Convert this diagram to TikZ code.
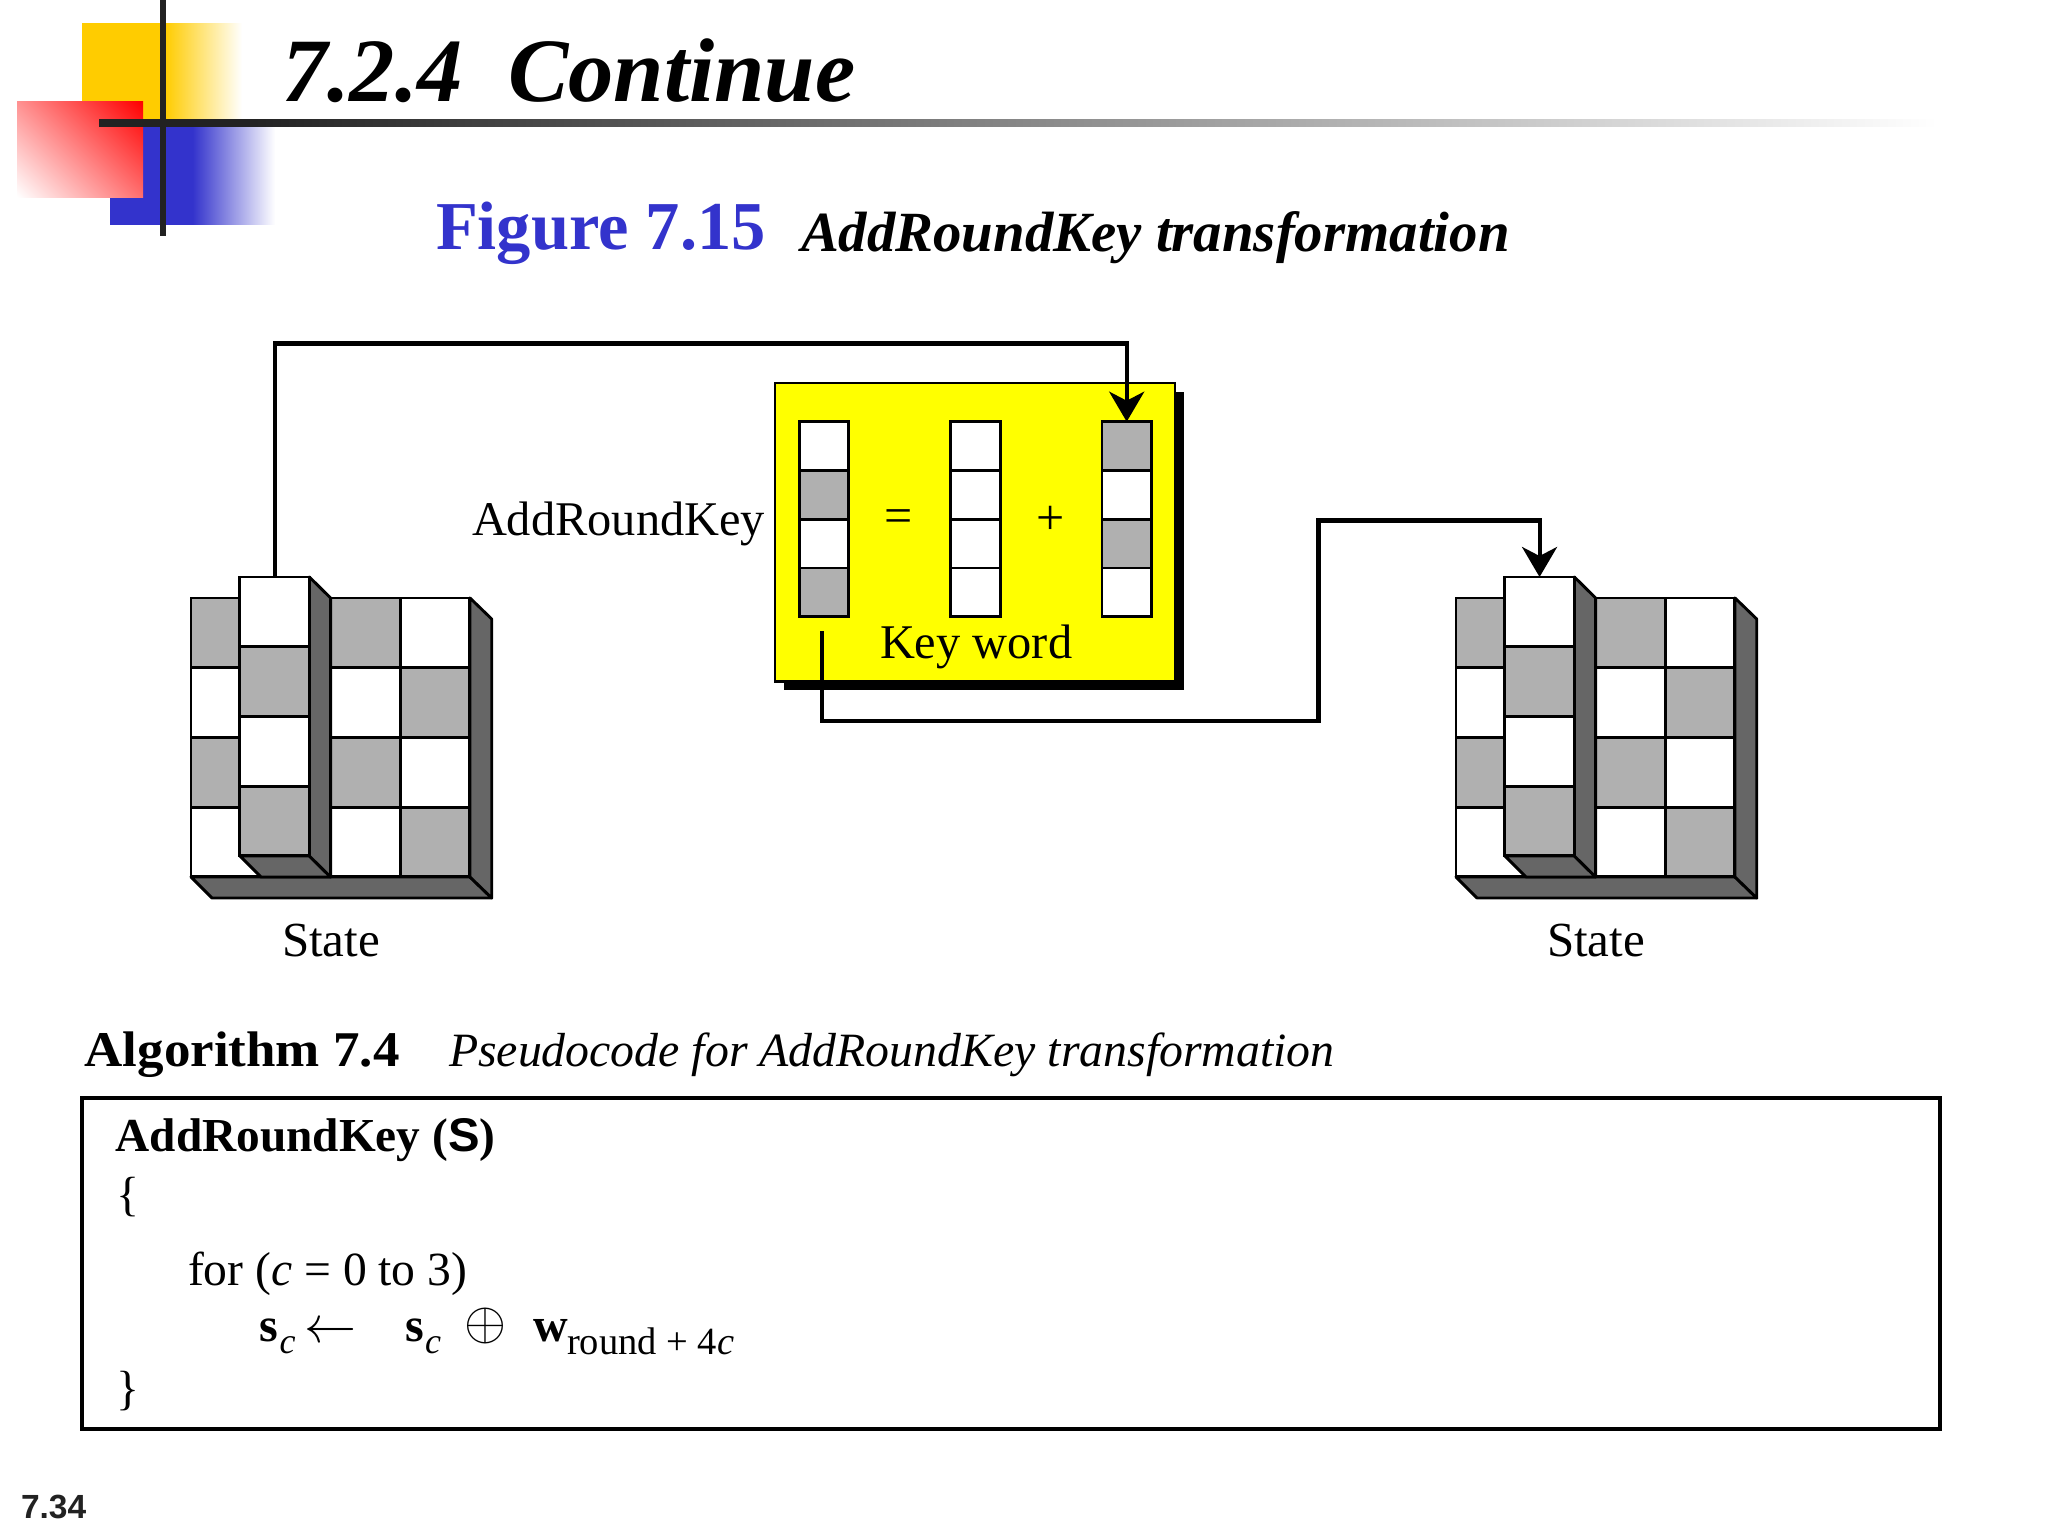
\documentclass[tikz,border=0pt]{standalone}
\usepackage{fontspec}
\setmainfont{Liberation Serif}
\newfontfamily\hsans{Liberation Sans}
\usetikzlibrary{arrows.meta}
\definecolor{cgray}{RGB}{176,176,176}
\definecolor{cdark}{RGB}{102,102,102}
\definecolor{cbar}{RGB}{34,34,34}
\definecolor{cblue}{RGB}{51,51,204}
\definecolor{cyel}{RGB}{255,204,0}
\definecolor{credm}{RGB}{255,128,128}
\definecolor{credd}{RGB}{255,0,0}
\definecolor{cpanel}{RGB}{255,255,0}
\pgfdeclarehorizontalshading{yelfade}{100bp}{color(0bp)=(cyel); color(51bp)=(cyel); color(75bp)=(white); color(100bp)=(white)}
\pgfdeclarehorizontalshading{blufade}{100bp}{color(0bp)=(cblue); color(50bp)=(cblue); color(75bp)=(white); color(100bp)=(white)}
\pgfdeclarehorizontalshading{barfade}{100bp}{color(0bp)=(cbar); color(29bp)=(cbar); color(75bp)=(white); color(100bp)=(white)}
\pgfdeclareverticalshading{redfade}{100bp}{color(0bp)=(white); color(14.6bp)=(white); color(50bp)=(credm); color(85.4bp)=(credd); color(100bp)=(credd)}
\newcommand{\fsz}[1]{\fontsize{#1}{#1}\selectfont}
\tikzset{
  txt/.style={inner sep=0pt,outer sep=0pt,anchor=base west},
  cellbase/.style={draw=black,line width=2.9pt,inner sep=0pt,outer sep=0pt,anchor=north west,minimum width=69.7pt,minimum height=69.7pt},
  cellw/.style={cellbase,fill=white},
  cellg/.style={cellbase,fill=cgray},
  keybase/.style={draw=black,line width=2.8pt,inner sep=0pt,outer sep=0pt,anchor=north west,minimum width=49.4pt,minimum height=48.7pt},
  keyw/.style={keybase,fill=white},
  keyg/.style={keybase,fill=cgray},
  face/.style={draw=black,line width=2.9pt,fill=cdark,line join=round},
  conn/.style={draw=black,line width=4.1pt,line join=miter},
  arrowed/.style={conn,-{Stealth[length=30pt,width=35pt,inset=9pt]}},
}
\newcommand{\statecube}[2]{%
  \begin{scope}[xshift=#2pt]
    \draw[face] (191,877) -- (212,898) -- (491.7,898) -- (470,877) -- cycle;
    \draw[face] (470,598) -- (491.7,619) -- (491.7,898) -- (470,877) -- cycle;
    \foreach \j/\a/\b/\c in {0/cellg/cellg/cellw,1/cellw/cellw/cellg,2/cellg/cellg/cellw,3/cellw/cellw/cellg}{
      \node[\a] (#1a\j) at (191,{598+\j*69.7}) {};
      \node[cellw] (#1h\j) at (260.7,{598+\j*69.7}) {};
      \node[\b] (#1b\j) at (330.4,{598+\j*69.7}) {};
      \node[\c] (#1c\j) at (400.1,{598+\j*69.7}) {};
    }
    \draw[face] (240,856) -- (261,877) -- (330.6,877) -- (309.4,856) -- cycle;
    \draw[face] (309.4,577) -- (330.6,598) -- (330.6,877) -- (309.4,856) -- cycle;
    \foreach \j/\a in {0/cellw,1/cellg,2/cellw,3/cellg}{
      \node[\a] (#1p\j) at (239.7,{577+\j*69.7}) {};
    }
    \node[txt] (#1lab) at (282,956) {\fsz{49}State};
  \end{scope}}
\begin{document}
\begin{tikzpicture}[x=1pt,y=-1pt]
\useasboundingbox (0,0) rectangle (2048,1536);
\fill[white] (0,0) rectangle (2048,1536);
% corner decoration
\shade[shading=yelfade] (82,24) rectangle (242,120);
\shade[shading=blufade] (110,120) rectangle (275,224.5);
\shade[shading=redfade,shading angle=-45] (17,102) rectangle (143,197);
\fill[cbar] (159.6,0) rectangle (166,235.6);
\shade[shading=barfade] (99,119.3) rectangle (1937,126.8);
% headings
\node[txt] (title) at (282,102) {\fsz{90.5}\bfseries\itshape 7.2.4\hspace{.5em}Continue};
\node[txt,text=cblue] (figno) at (436,249) {\fsz{68.5}\bfseries Figure 7.15};
\node[txt] (figcap) at (801,251) {\fsz{56.8}\bfseries\itshape AddRoundKey transformation};
% key panel
\fill[black] (784,392) rectangle (1184,690);
\node[draw=black,line width=2.9pt,fill=cpanel,inner sep=0pt,outer sep=0pt,anchor=north west,minimum width=400pt,minimum height=298.7pt] (panel) at (775,383) {};
\foreach \j/\a/\b in {0/keyw/keyg,1/keyg/keyw,2/keyw/keyg,3/keyg/keyw}{
  \node[\a] (ka\j) at (799.3,{421.7+\j*48.75}) {};
  \node[keyw] (kb\j) at (950.7,{421.7+\j*48.75}) {};
  \node[\b] (kc\j) at (1102,{421.7+\j*48.75}) {};
}
\node[txt] (arklab) at (472,535) {\fsz{48.4}AddRoundKey};
\node[inner sep=0pt] (eq) at (899,521.5) {\fsz{50}=};
\node[inner sep=0pt] (plus) at (1050.5,520.5) {\fsz{50}+};
\node[txt] (kw) at (880,658) {\fsz{48.4}Key word};
% states
\statecube{sl}{0}
\statecube{sr}{1265}
% connectors
\coordinate (topcorner) at (275,343.5);
\coordinate (kstart) at (822,631);
\coordinate (kdown) at (822,721);
\coordinate (kup) at (1318.5,520.5);
\draw[arrowed] (slp0.north) |- (topcorner) -| (kc0.north);
\draw[arrowed] (kstart) -- (kdown) -| (kup) -| (srp0.north);
% algorithm
\node[txt] (algno) at (84.5,1066) {\fsz{50}\scalebox{1.06}[1]{\bfseries Algorithm 7.4}};
\node[txt] (algcap) at (449,1066) {\fsz{47.8}\itshape Pseudocode for AddRoundKey transformation};
\node[draw=black,line width=3.4pt,inner sep=0pt,outer sep=0pt,anchor=north west,minimum width=1858pt,minimum height=331pt] (algbox) at (82,1098) {};
\node[txt] (l1) at (115.7,1151.7) {\fsz{47.3}\bfseries AddRoundKey ({\hsans S})};
\node[txt] (l2) at (116,1210) {\fsz{48}\{};
\node[txt] (l3) at (188,1285) {\fsz{47.6}for (\textit{c} = 0 to 3)};
\node[txt] (s1) at (259.6,1341.7) {\fsz{48}\bfseries s};
\node[txt] (c1) at (279.5,1353) {\fsz{36}\itshape c};
\node[txt] (arr) at (304,1342.5) {\scalebox{5.2}{$\leftarrow$}};
\node[txt] (s2) at (405,1341.7) {\fsz{48}\bfseries s};
\node[txt] (c2) at (425,1353) {\fsz{36}\itshape c};
\node[inner sep=0pt] (xor) at (485,1325.7) {\scalebox{5.4}{$\oplus$}};
\node[txt] (w) at (533,1341.7) {\fsz{48}\bfseries w};
\node[txt] (sub) at (567,1354) {\fsz{38.5}round + 4\textit{c}};
\node[txt] (l6) at (116,1404) {\fsz{48}\}};
\node[txt,text=cbar] (pg) at (21,1518) {\fsz{33.5}\hsans\bfseries 7.34};
\end{tikzpicture}
\end{document}
